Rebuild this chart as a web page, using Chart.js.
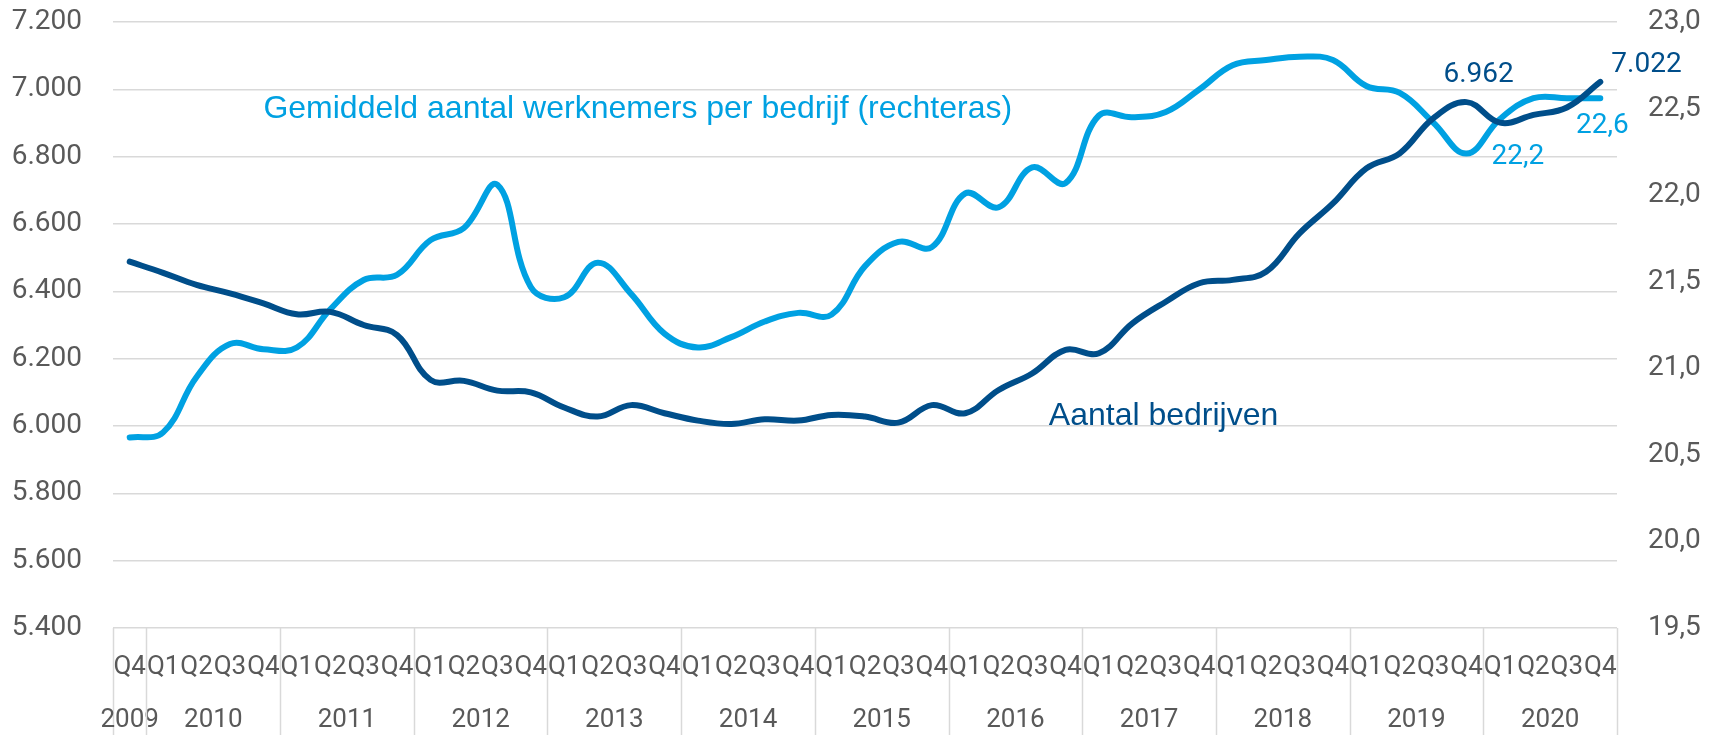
<!DOCTYPE html>
<html><head><meta charset="utf-8">
<script src="https://cdn.jsdelivr.net/npm/chart.js@4.4.0/dist/chart.umd.min.js"></script>
<style>html,body{margin:0;padding:0;background:#fff;overflow:hidden}#wrap{width:1719px;height:735px;position:relative}</style>
</head><body><div id="wrap"><canvas id="c" width="1719" height="735"></canvas></div>
<script>
// ---- data ----
const quarters = ["Q4",
  "Q1","Q2","Q3","Q4","Q1","Q2","Q3","Q4","Q1","Q2","Q3","Q4","Q1","Q2","Q3","Q4",
  "Q1","Q2","Q3","Q4","Q1","Q2","Q3","Q4","Q1","Q2","Q3","Q4","Q1","Q2","Q3","Q4",
  "Q1","Q2","Q3","Q4","Q1","Q2","Q3","Q4","Q1","Q2","Q3","Q4"];
const years = ["2009","2010","2011","2012","2013","2014","2015","2016","2017","2018","2019","2020"];
const quartersPerYear = [1,4,4,4,4,4,4,4,4,4,4,4];
const aantalBedrijven = [6488,
  6455,6419,6394,6364, 6332,6339,6300,6270, 6137,6134,6105,6100, 6055,6028,6062,6038,
  6016,6006,6020,6016, 6033,6028,6010,6062, 6038,6107,6156,6226, 6216,6305,6369,6424,
  6434,6458,6572,6661, 6765,6810,6914,6962, 6901,6924,6946,7022];
const gemiddeldWerknemers = [20.60,
  20.63,20.95,21.14,21.11, 21.12,21.34,21.51,21.54, 21.74,21.81,22.06,21.47, 21.41,21.61,21.43,21.20,
  21.12,21.18,21.27,21.32, 21.31,21.59,21.73,21.70, 22.01,21.93,22.16,22.07, 22.46,22.45,22.48,22.61,
  22.75,22.78,22.80,22.78, 22.63,22.59,22.42,22.24, 22.44,22.56,22.56,22.56];
const leftAxis = {min: 5400, max: 7200, step: 200};
const rightAxis = {min: 19.5, max: 23.0, step: 0.5};
const labelIndexBedrijven = [40, 44];
const labelIndexWerknemers = [40, 44];
const seriesNames = ["Aantal bedrijven", "Gemiddeld aantal werknemers per bedrijf (rechteras)"];

// ---- styles ----
const DARK = '#004E8A';
const LIGHT = '#00A1E2';
const GREY = '#595959';
const GRID = '#D9D9D9';

function fmtThousands(v){ return String(Math.round(v)).replace(/\B(?=(\d{3})+(?!\d))/g, '.'); }
function fmtComma(v){ return (Math.round(v*10)/10).toFixed(1).replace('.', ','); }

const yearPlugin = {
  id: 'yearRow',
  afterDraw(chart){
    const {ctx, chartArea, scales:{x}} = chart;
    const half = (x.getPixelForValue(1) - x.getPixelForValue(0)) / 2;
    ctx.save();
    ctx.strokeStyle = GRID; ctx.lineWidth = 1.5;
    ctx.fillStyle = GREY; ctx.font = '26px Roboto'; ctx.textAlign = 'center'; ctx.textBaseline = 'middle';
    let start = 0, right = 0;
    for (let k = 0; k < years.length; k++){
      const n = quartersPerYear[k];
      const left = x.getPixelForValue(start) - half;
      right = x.getPixelForValue(start + n - 1) + half;
      ctx.beginPath(); ctx.moveTo(Math.round(left)+0.5, chartArea.bottom); ctx.lineTo(Math.round(left)+0.5, chart.height); ctx.stroke();
      ctx.fillText(years[k], (left + right) / 2, chartArea.bottom + 92);
      start += n;
    }
    ctx.beginPath(); ctx.moveTo(Math.round(right)+0.5, chartArea.bottom); ctx.lineTo(Math.round(right)+0.5, chart.height); ctx.stroke();
    ctx.restore();
  }
};

const textPlugin = {
  id: 'texts',
  afterDatasetsDraw(chart){
    const {ctx, scales:{x, y}} = chart;
    ctx.save();
    ctx.textBaseline = 'middle';
    // series names
    ctx.font = '32px "Liberation Sans", Arial, sans-serif';
    ctx.fillStyle = LIGHT; ctx.textAlign = 'left';
    ctx.fillText(seriesNames[1], x.getPixelForValue(4), y.getPixelForValue(6940));
    ctx.font = '32px "Liberation Sans", Arial, sans-serif';
    ctx.fillStyle = DARK; ctx.textAlign = 'left';
    ctx.fillText(seriesNames[0], x.getPixelForValue(27.5), y.getPixelForValue(6030));
    // data labels
    ctx.font = '28px Roboto';
    const m0 = chart.getDatasetMeta(0).data, m1 = chart.getDatasetMeta(1).data;
    ctx.fillStyle = DARK;
    let p = m0[labelIndexBedrijven[0]];
    ctx.textAlign = 'center'; ctx.fillText(fmtThousands(aantalBedrijven[labelIndexBedrijven[0]]), p.x + 12, p.y - 27);
    p = m0[labelIndexBedrijven[1]];
    ctx.textAlign = 'left'; ctx.fillText(fmtThousands(aantalBedrijven[labelIndexBedrijven[1]]), p.x + 11, p.y - 17);
    ctx.fillStyle = LIGHT;
    p = m1[labelIndexWerknemers[0]];
    ctx.textAlign = 'left'; ctx.fillText(fmtComma(gemiddeldWerknemers[labelIndexWerknemers[0]]), p.x + 25, p.y + 3);
    p = m1[labelIndexWerknemers[1]];
    ctx.textAlign = 'center'; ctx.fillText(fmtComma(gemiddeldWerknemers[labelIndexWerknemers[1]]), p.x + 2, p.y + 28);
    ctx.restore();
  }
};

new Chart(document.getElementById('c'), {
  type: 'line',
  data: {
    labels: quarters,
    datasets: [
      {label: seriesNames[0], data: aantalBedrijven, yAxisID: 'y', borderColor: DARK, borderWidth: 6,
       pointRadius: 0, tension: 0.4, fill: false, borderCapStyle: 'round', borderJoinStyle: 'round'},
      {label: seriesNames[1], data: gemiddeldWerknemers, yAxisID: 'y2', borderColor: LIGHT, borderWidth: 6,
       pointRadius: 0, tension: 0.4, fill: false, borderCapStyle: 'round', borderJoinStyle: 'round'}
    ]
  },
  options: {
    responsive: false, animation: false, devicePixelRatio: 1,
    layout: {padding: {top: 22, left: 0, right: 0, bottom: 0}},
    plugins: {legend: {display: false}, tooltip: {enabled: false}},
    scales: {
      x: {
        offset: true,
        grid: {display: false, drawTicks: false, offset: true}, border: {display: false},
        ticks: {autoSkip: false, maxRotation: 0, minRotation: 0, color: GREY, font: {family: 'Roboto', size: 26}, padding: 24},
        afterFit(s){ s.height = 107; s.paddingLeft = 0; s.paddingRight = 0; }
      },
      y: {
        position: 'left', min: leftAxis.min, max: leftAxis.max,
        grid: {color: GRID, lineWidth: 1.5, drawTicks: false}, border: {display: false},
        ticks: {stepSize: leftAxis.step, color: GREY, font: {family: 'Roboto', size: 28}, padding: 31,
                callback: v => fmtThousands(v)},
        afterFit(s){ s.width = 113; s.paddingTop = 0; s.paddingBottom = 0; }
      },
      y2: {
        position: 'right', min: rightAxis.min, max: rightAxis.max,
        grid: {display: false, drawTicks: false}, border: {display: false},
        ticks: {stepSize: rightAxis.step, color: GREY, font: {family: 'Roboto', size: 28}, padding: 31,
                callback: v => fmtComma(v)},
        afterFit(s){ s.width = 102; s.paddingTop = 0; s.paddingBottom = 0; }
      }
    }
  },
  plugins: [yearPlugin, textPlugin]
});
</script></body></html>
